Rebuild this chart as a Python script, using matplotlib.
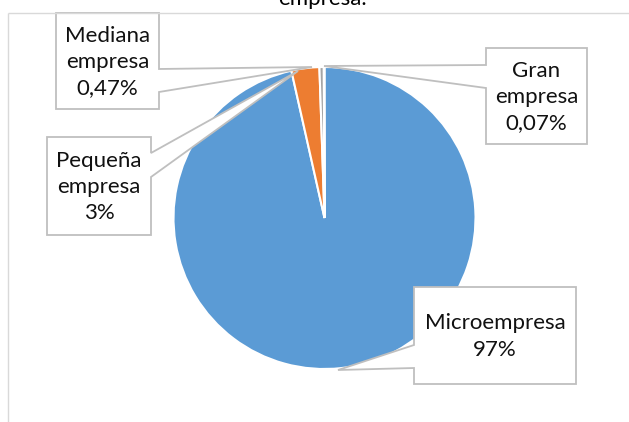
import matplotlib
matplotlib.use("Agg")
import matplotlib.pyplot as plt
from matplotlib.patches import Polygon

plt.rcParams['font.family'] = ['Lato', 'DejaVu Sans']

# ---- data ----
categories = ["Microempresa", "Pequeña\nempresa", "Mediana\nempresa", "Gran\nempresa"]
values = [97.0, 3.0, 0.47, 0.07]
pct_labels = ["97%", "3%", "0,47%", "0,07%"]
colors = ["#5B9BD5", "#ED7D31", "#A5A5A5", "#FFC000"]
title = "empresa."

W, H = 629, 422
fig = plt.figure(figsize=(W / 100, H / 100), dpi=100)

# pie axes (center 324.5,218 px; radius 151 px)
cx, cy, r = 324.5, 218.0, 151.0
ax = fig.add_axes([(cx - r) / W, (H - cy - r) / H, 2 * r / W, 2 * r / H])
ax.pie(values, colors=colors, startangle=90, counterclock=False, radius=1.0,
       wedgeprops=dict(edgecolor="white", linewidth=1.5))
ax.set_xlim(-1, 1)
ax.set_ylim(-1, 1)
ax.set_aspect("auto")
ax.axis("off")

# overlay axes in pixel coordinates for frame, title, callouts
ov = fig.add_axes([0, 0, 1, 1], zorder=5)
ov.set_xlim(0, W)
ov.set_ylim(H, 0)
ov.axis("off")
ov.patch.set_alpha(0)

border = "#D9D9D9"
ov.plot([7.5, 7.5], [12.5, H + 5], color=border, lw=1.0, solid_capstyle="butt")
ov.plot([7.5, W + 5], [12.5, 12.5], color=border, lw=1.0, solid_capstyle="butt")

ov.text(322, 5, title, ha="center", va="baseline", fontsize=16, color="#000000")

# callout geometry: box (x0,y0,x1,y1), side of pointer, pointer y range, tip
callouts = [
    ((414, 287, 576, 384), "left", (345, 368), (338, 370)),
    ((47, 137, 151, 235), "right", (153, 177), (298, 71)),
    ((56, 13, 159, 109), "right", (69, 92), (312, 67)),
    ((486, 48, 587, 144), "left", (65, 88), (324, 66)),
]

for cat, pct, (box, side, (py0, py1), tip) in zip(categories, pct_labels, callouts):
    x0, y0, x1, y1 = box
    if side == "right":
        pts = [(x0, y0), (x1, y0), (x1, py0), tip, (x1, py1), (x1, y1), (x0, y1)]
    else:
        pts = [(x0, y0), (x1, y0), (x1, y1), (x0, y1), (x0, py1), tip, (x0, py0)]
    ov.add_patch(Polygon(pts, closed=True, facecolor="white", edgecolor="#BFBFBF",
                         lw=1.3, joinstyle="miter"))
    ov.text((x0 + x1) / 2, (y0 + y1) / 2 + 1, cat + "\n" + pct, ha="center", va="center",
            fontsize=16, color="#111111", linespacing=1.38)

fig.savefig("out.png", dpi=100)
